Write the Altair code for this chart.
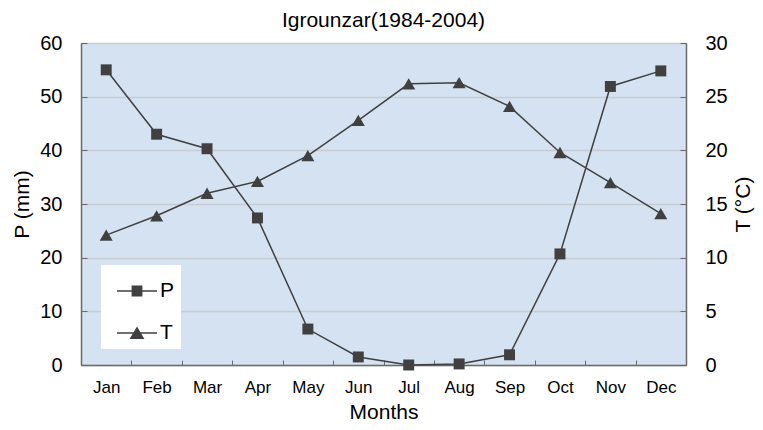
import altair as alt
import pandas as pd

months = ["Jan", "Feb", "Mar", "Apr", "May", "Jun", "Jul", "Aug", "Sep", "Oct", "Nov", "Dec"]
precip = [55.0, 43.0, 40.3, 27.4, 6.7, 1.5, 0.0, 0.2, 1.9, 20.7, 51.9, 54.8]
temp = [12.1, 13.9, 16.0, 17.1, 19.5, 22.8, 26.2, 26.3, 24.1, 19.8, 17.0, 14.1]
series_names = ["P", "T"]

df = pd.DataFrame({"Month": months, "P": precip, "T": temp})
legend_df = pd.DataFrame({"series": series_names, "Month": months[:2], "P": precip[:2]})

FONT = "Liberation Sans"
DARK = "#404040"
AXIS = "#6b6b6b"

P_PATH = "M-1,-0.04H1V0.04H-1ZM-0.27,-0.27H0.27V0.27H-0.27Z"
T_PATH = "M-1,-0.04H1V0.04H-1ZM0,-0.33L0.37,0.3H-0.37Z"

x_enc = alt.X(
    "Month:N",
    sort=months,
    scale=alt.Scale(type="band", paddingInner=0, paddingOuter=0),
    axis=alt.Axis(
        title="Months", labelAngle=0, tickBand="extent", labelFontSize=17,
        titleFontSize=21, labelPadding=19, titleX=302.5, titleY=47,
        titleBaseline="middle",
        tickSize={"expr": "-5"}, tickColor=AXIS, domainColor=AXIS, domainWidth=1.5,
        labelColor="black", titleColor="black", titleFontWeight="normal",
    ),
)
x_plain = alt.X("Month:N", sort=months)

base = alt.Chart(df)

p_line = base.mark_line(color=DARK, strokeWidth=1.5).encode(
    x=x_enc,
    y=alt.Y(
        "P:Q",
        scale=alt.Scale(domain=[0, 60], nice=False, zero=True),
        axis=alt.Axis(
            title="P (mm)", orient="left", values=[0, 10, 20, 30, 40, 50, 60],
            grid=True, gridColor="#c8ccd3", gridWidth=1.5,
            labelFontSize=20, titleFontSize=21, titleFontWeight="normal",
            labelPadding=25, titleX=-59, titleY=161, titleBaseline="middle",
            tickSize={"expr": "-6"}, tickColor=AXIS, domainColor=AXIS, domainWidth=1.5,
            labelColor="black", titleColor="black",
        ),
    ),
)
p_pts = base.mark_point(
    filled=True, color=DARK, size=120, opacity=1, shape="square"
).encode(x=x_plain, y=alt.Y("P:Q"))

legend_layer = alt.Chart(legend_df).mark_point(
    filled=True, color=DARK, size=0, opacity=1
).encode(
    x=x_plain,
    y=alt.Y("P:Q"),
    shape=alt.Shape(
        "series:N",
        scale=alt.Scale(domain=series_names, range=[P_PATH, T_PATH]),
        legend=alt.Legend(
            title=None, orient="none", legendX=20, legendY=222,
            fillColor="white", padding=6, rowPadding=12,
            symbolSize=1600, symbolStrokeWidth=0,
            symbolFillColor=DARK, symbolOpacity=1,
            symbolOffset=10, labelOffset=3,
            labelFontSize=21, labelFont=FONT, labelColor="black",
        ),
    ),
)

t_line = base.mark_line(color=DARK, strokeWidth=1.5).encode(
    x=x_enc,
    y=alt.Y(
        "T:Q",
        scale=alt.Scale(domain=[0, 30], nice=False, zero=True),
        axis=alt.Axis(
            title="T (°C)", orient="right", values=[0, 5, 10, 15, 20, 25, 30],
            grid=False, labelFontSize=20, titleFontSize=21, titleFontWeight="normal",
            labelPadding=25, titleAngle=-90, titleX=57, titleY=161,
            titleBaseline="middle",
            tickSize={"expr": "-6"}, tickColor=AXIS, domainColor=AXIS, domainWidth=1.5,
            labelColor="black", titleColor="black",
        ),
    ),
)
t_pts = base.mark_point(
    filled=True, color=DARK, size=170, opacity=1, shape="triangle-up"
).encode(x=x_plain, y=alt.Y("T:Q"))

left = alt.layer(p_line, p_pts, legend_layer)
right = alt.layer(t_line, t_pts)

chart = alt.layer(left, right).resolve_scale(y="independent").properties(
    width=605, height=322,
    autosize=alt.AutoSizeParams(type="none"),
    padding={"left": 73, "top": 35, "right": 69, "bottom": 57},
    title=alt.TitleParams("Igrounzar(1984-2004)", fontSize=21, fontWeight="normal",
                          font=FONT, color="black", offset=2),
).configure(font=FONT).configure_view(
    fill="#d5e2f1", stroke="#8c8c8c", strokeWidth=1
).configure_axis(labelFont=FONT, titleFont=FONT)

chart.save("out.html", embed_options={"renderer": "svg", "actions": False})
